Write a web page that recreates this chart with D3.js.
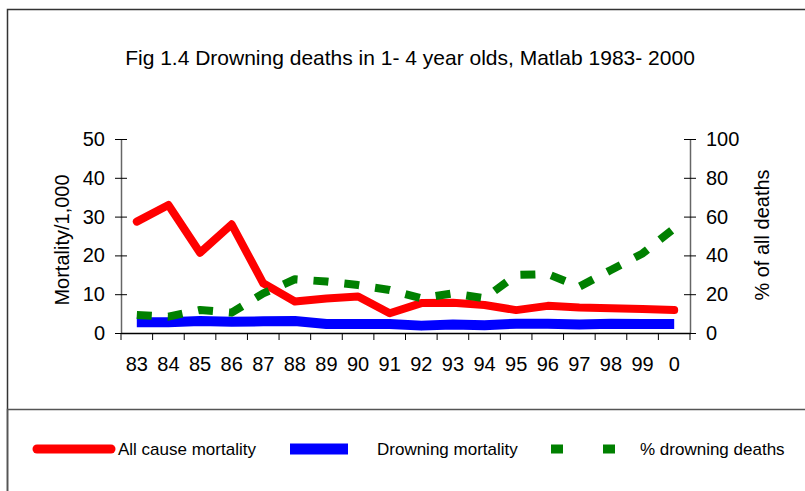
<!DOCTYPE html>
<html>
<head>
<meta charset="utf-8">
<script src="https://cdn.jsdelivr.net/npm/d3@7"></script>
<style>
  body { margin: 0; background: #fff; }
  svg text { font-family: "Liberation Sans", Arial, sans-serif; fill: #000; }
</style>
</head>
<body>
<svg id="viz" width="805" height="491"></svg>
<script>
// data
var years = ["83", "84", "85", "86", "87", "88", "89", "90", "91", "92", "93", "94", "95", "96", "97", "98", "99", "0"]
var allCause = [28.7, 33.0, 20.7, 28.0, 12.8, 8.1, 8.9, 9.4, 5.1, 7.7, 7.8, 7.2, 5.9, 7.0, 6.6, 6.4, 6.2, 5.9]
var drowning = [2.8, 2.8, 3.1, 2.9, 3.0, 3.1, 2.3, 2.3, 2.3, 1.9, 2.2, 2.0, 2.4, 2.4, 2.2, 2.4, 2.3, 2.3]
var pctDrowning = [9.3, 8.4, 11.9, 10.5, 20.4, 27.7, 26.5, 24.7, 22.2, 17.9, 20.4, 17.9, 29.9, 30.4, 23.9, 32.5, 41, 54]
var leftTicks = [0, 10, 20, 30, 40, 50]
var rightTicks = [0, 20, 40, 60, 80, 100]

var series = [
    {name: "All cause mortality", values: allCause, axis: "left", color: "#ff0000", width: 8, dash: null, cap: "round"},
    {name: "Drowning mortality", values: drowning, axis: "left", color: "#0000ff", width: 10, dash: null, cap: "butt"},
    {name: "% drowning deaths", values: pctDrowning, axis: "right", color: "#008000", width: 8, dash: "15,16", cap: "butt"}
]

let plot = {left: 121, right: 690, top: 139, bottom: 333}
let viz = d3.select("#viz")

// outer frame and legend frame
viz.append("rect")
    .attr("x", 7.5).attr("y", 9.5)
    .attr("width", 820).attr("height", 500)
    .style("fill", "none").style("stroke", "#333").style("stroke-width", 1.5)

viz.append("rect")
    .attr("x", 7.5).attr("y", 409.5)
    .attr("width", 820).attr("height", 100)
    .style("fill", "none").style("stroke", "#555").style("stroke-width", 1.5)

viz.append("text")
    .attr("x", 410).attr("y", 65)
    .attr("text-anchor", "middle")
    .attr("font-size", 21)
    .text("Fig 1.4 Drowning deaths in 1- 4 year olds, Matlab 1983- 2000")

let x = d3.scaleBand().domain(years).range([plot.left, plot.right]).padding(0)
let yL = d3.scaleLinear().domain([0, 50]).range([plot.bottom, plot.top])
let yR = d3.scaleLinear().domain([0, 100]).range([plot.bottom, plot.top])

// left axis
let gL = viz.append("g")
    .attr("transform", `translate(${plot.left},0)`)
    .call(d3.axisLeft(yL).tickValues(leftTicks).tickSize(6).tickSizeOuter(0).tickPadding(10))
gL.selectAll(".tick line").attr("x1", 6).style("stroke", "#000")
gL.select(".domain").style("stroke", "#666").style("stroke-width", 1.5)
gL.selectAll("text").attr("font-size", 20).style("font-family", "Liberation Sans, Arial, sans-serif")

// right axis
let gR = viz.append("g")
    .attr("transform", `translate(${plot.right},0)`)
    .call(d3.axisRight(yR).tickValues(rightTicks).tickSize(6).tickSizeOuter(0).tickPadding(10))
gR.selectAll(".tick line").attr("x1", -6).style("stroke", "#000")
gR.select(".domain").style("stroke", "#666").style("stroke-width", 1.5)
gR.selectAll("text").attr("font-size", 20).style("font-family", "Liberation Sans, Arial, sans-serif")

// bottom axis: labels at band centres, ticks at band boundaries
let gB = viz.append("g")
    .attr("transform", `translate(0,${plot.bottom})`)
    .call(d3.axisBottom(x).tickSize(0).tickPadding(24))
gB.select(".domain").style("stroke", "#000").style("stroke-width", 1.5)
gB.selectAll("text").attr("font-size", 20).style("font-family", "Liberation Sans, Arial, sans-serif")
gB.selectAll(".boundary")
    .data(d3.range(years.length + 1))
    .enter().append("line")
    .attr("x1", i => plot.left + i * x.step())
    .attr("x2", i => plot.left + i * x.step())
    .attr("y1", 0).attr("y2", 7)
    .style("stroke", "#000")

// axis titles
viz.append("text")
    .attr("transform", "translate(69,240) rotate(-90)")
    .attr("text-anchor", "middle")
    .attr("font-size", 20)
    .text("Mortality/1,000")

viz.append("text")
    .attr("transform", "translate(769,235) rotate(-90)")
    .attr("text-anchor", "middle")
    .attr("font-size", 20)
    .text("% of all deaths")

// lines
series.forEach(function (s) {
    let yScale = s.axis == "left" ? yL : yR
    let line = d3.line()
        .x((d, i) => x(years[i]) + x.bandwidth() / 2)
        .y(d => yScale(d))
    viz.append("path")
        .datum(s.values)
        .attr("d", line)
        .style("fill", "none")
        .style("stroke", s.color)
        .style("stroke-width", s.width)
        .style("stroke-linejoin", "round")
        .style("stroke-linecap", s.cap)
        .style("stroke-dasharray", s.dash)
})

// legend
let legendY = 449
let legendItems = [
    {sx1: 33, sx2: 115, tx: 118},
    {sx1: 290, sx2: 348, tx: 377},
    {sx1: 551, sx2: 615, tx: 640}
]
series.forEach(function (s, i) {
    let item = legendItems[i]
    let sym = viz.append("line")
        .attr("x1", item.sx1).attr("x2", item.sx2)
        .attr("y1", legendY).attr("y2", legendY)
        .style("stroke", s.color)
        .style("stroke-width", s.width + 1)
        .style("stroke-linecap", s.cap)
    if (s.dash) sym.style("stroke-dasharray", "12,40").attr("x1", item.sx1).attr("x2", item.sx2 + 1)
    if (s.cap == "round") sym.attr("x1", item.sx1 + 4).attr("x2", item.sx2 - 4)
    viz.append("text")
        .attr("x", item.tx).attr("y", legendY + 6)
        .attr("font-size", 17)
        .text(s.name)
})
</script>
</body>
</html>
